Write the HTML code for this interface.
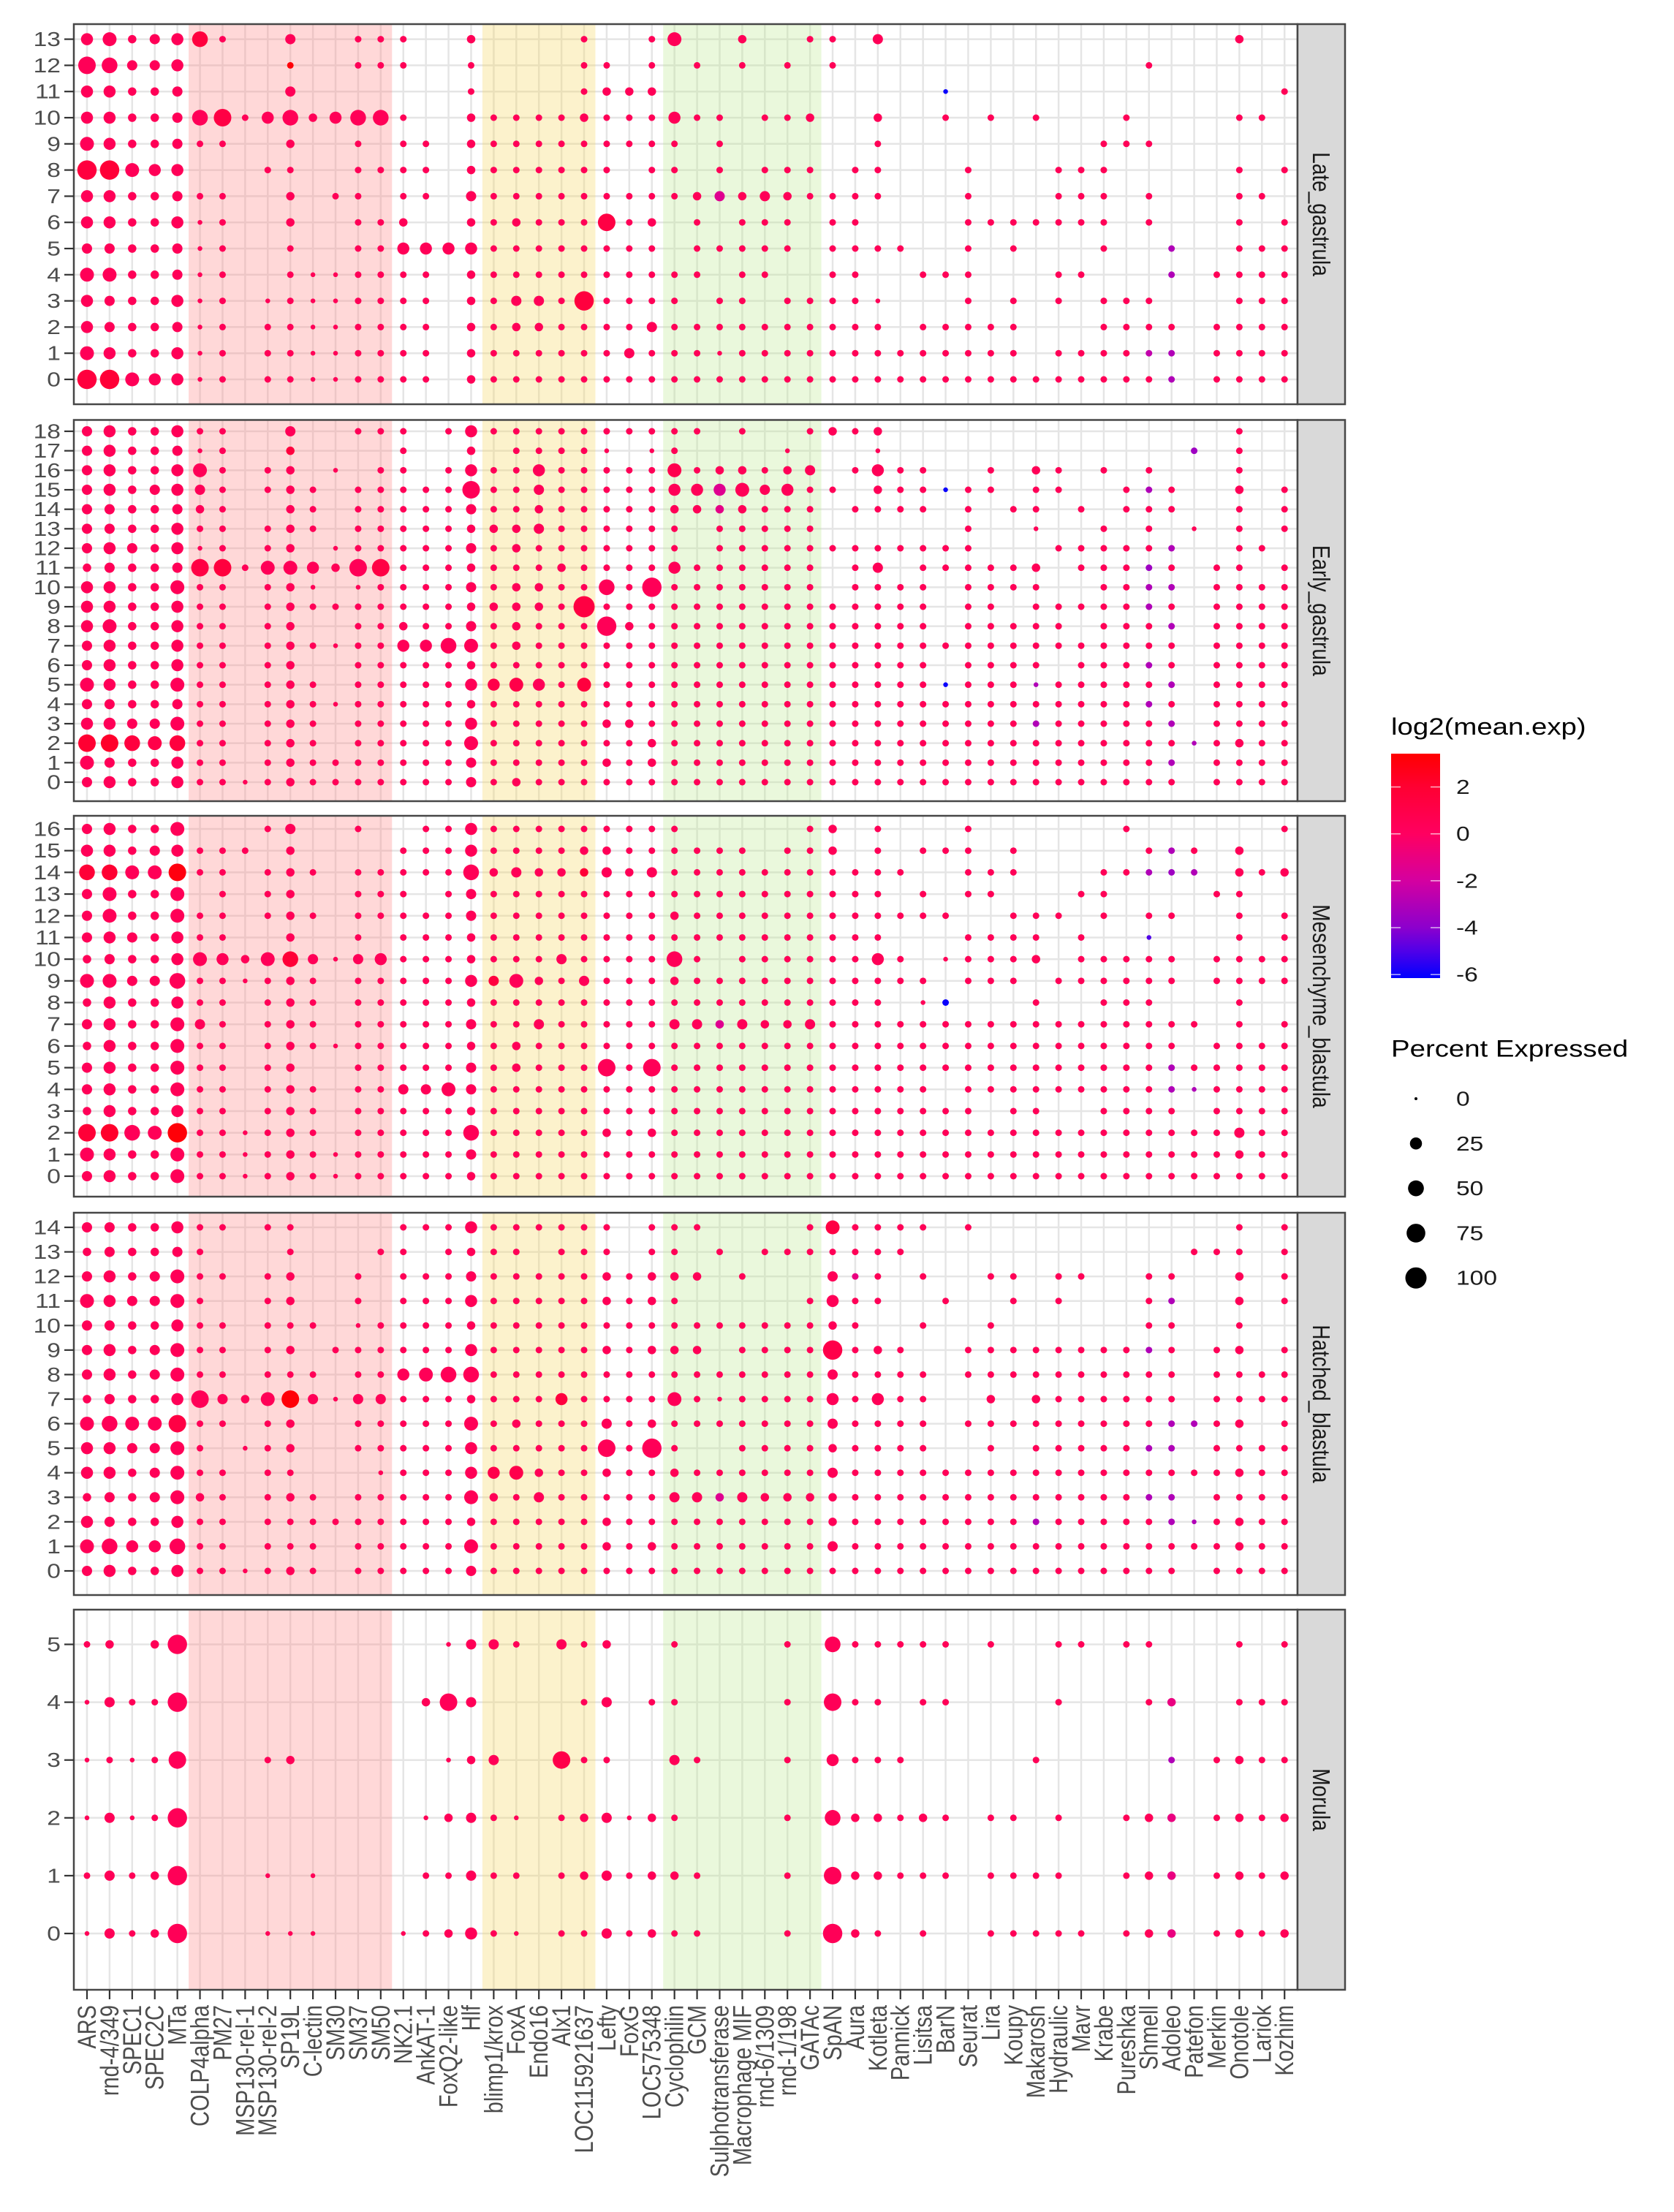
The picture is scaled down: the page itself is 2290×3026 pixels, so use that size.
<!DOCTYPE html>
<html>
<head>
<meta charset="utf-8">
<style>
html,body{margin:0;padding:0;background:#fff;}
svg{display:block;font-family:"Liberation Sans",Arial,sans-serif;}
</style>
</head>
<body>
<svg id="chart" xmlns="http://www.w3.org/2000/svg" width="2290" height="3026" viewBox="0 0 2290 3026">
<rect x="0" y="0" width="2290" height="3026" fill="#ffffff"/>
<g id="panels"></g>
<g id="xaxis"></g>
<g id="legend"></g>
</svg>
<script>
const genes = ["ARS","rnd-4/349","SPEC1","SPEC2C","MTa","COLP4alpha","PM27","MSP130-rel-1","MSP130-rel-2","SP19L","C-lectin","SM30","SM37","SM50","NK2.1","AnkAT-1","FoxQ2-like","Hlf","blimp1/krox","FoxA","Endo16","Alx1","LOC115921637","Lefty","FoxG","LOC575348","Cyclophilin","GCM","Sulphotransferase","Macrophage MIF","rnd-6/1309","rnd-1/198","GATAc","SpAN","Aura","Kotleta","Pannick","Lisitsa","BarN","Seurat","Lira","Koupy","Makarosh","Hydraulic","Mavr","Krabe","Pureshka","Shmell","Adoleo","Patefon","Merkin","Onotole","Lariok","Kozhim"];
const panelNames = ["Late_gastrula","Early_gastrula","Mesenchyme_blastula","Hatched_blastula","Morula"];
// percent expressed per cluster row (top row first); each char c = sqrt(percent) ('.' = none, X = 100)
const lateRows = [
"56345 72..4..22 2..3 ....2 ..2 6..3..2 2.4...............3..",
"87445 ....2..22 2..2 ....2 2.2 .2.2.2. 2.............2......",
"55334 ....4.... ...2 ....2 333 ....... .....1..............2",
"55334 782573577 2..3 22223 222 522.223 ..3..2.2.2...2....22.",
"65334 22..3..2. 22.3 22222 222 2.2.... ..2.........222......",
"99655 ...22..22 22.3 22222 2.2 2.2.222 .22...2...222.....2.2",
"55334 22..3.22. 22.4 22222 222 2343432 222...2...222.2...22.",
"55335 12..3..22 3..3 23222 823 .2.222. 22....2222222.2...2.2",
"44334 12..2..22 5555 22222 222 .22222. 2222..2.2...2..2..222",
"66334 12..21122 22.3 22222 222 22.22.. 22..222...22...2.2222",
"54335 12.121122 22.3 24429 222 2.22.22 221...2.2.2.222...222",
"54334 12.221122 22.3 23322 224 2222222 222.22222...2222.2222",
"65335 12.221122 22.3 22222 242 2212222 222222222.222222.2222",
"99655 12.221122 22.3 22222 222 2222222 2222222222222222.2222"
];
const earlyRows = [
"45335 22..4..22 2.25 22222 222 22.2..2 323...............2..",
"45334 12..3.... 2..3 .2222 1.1 2....1. ..1.............2.2..",
"45335 62.23.1.2 2.25 22522 222 6233234 .2522..2.32.2.2...2..",
"45345 42.232.22 2228 22422 222 5556452 2.322122.22..222..3.2",
"44334 32..32.22 2224 22322 222 3333222 .2222.2.22.2.222..2.2",
"44335 22.232.22 2223 33422 222 2.22222 ......2..1..2.2.1.2.2",
"45435 12.23.122 2224 23222 222 2.22222 2222222...222222..22.",
"34334 882665388 2223 22232 222 5222222 .24.222223.22222.22.2",
"55336 22.231.12 2224 23322 729 2222222 .2222.2222..2222.2222",
"55335 22.232222 2223 3332X 222 2222222 22222.22.2222222.2222",
"56335 22.23..22 3224 23222 932 2222222 22222.22222.2222.2222",
"45335 22.232122 5576 23222 222 2222222 2222222222222222.2222",
"45335 22.23..22 2223 22222 222 2222222 22222.2222.22222.2222",
"65336 22.232.22 2225 56526 222 2222222 22222 1 222 1 222222 . 2222",
"44334 22.232122 2223 22222 222 2222222 2222222222222222.2222",
"55446 22.232.22 2225 22222 332 2222222 2222222222222222.2222",
"88767 22.232.22 2226 22222 223 2222222 2222222222222222 12322",
"64335 22.232222 2224 22222 323 2222222 2222222222222222.2222",
"45335 221232222 2224 23222 222 2222222 2222222222222222.2222"
];
const mesRows = [
"45336 ...24..2. .225 22222 222 2.....2 3.2...2......2......2",
"55345 222.3.... 2225 22223 322 2222.22 3.2.222.2.....222.3..",
"77668 22.232.22 2227 34333 434 2222222 2222..222...22222.323",
"46336 .2.23..22 2.24 22222 222 2222222 222.2.22...22....22..",
"46336 22.232.22 2224 22222 222 3222222 222222..222.2.22..2.2",
"45435 22..3..2. 2223 22222 222 2222222 222...2222.2..1...2.2",
"34335 653674145 2223 22242 222 72.2222 2252.12223.22222.2222",
"66447 221232.22 2225 46324 222 3222222 22222.222.222222.2222",
"35335 22.232.22 2223 22222 222 2222222 222.12...2..222...2..",
"45336 42.232.22 2224 22422 222 4434334 22222222222222222.2.2",
"35336 22.232122 2223 23222 222 2222222 2222222222222222.2222",
"45336 22.23..22 2224 23222 828 2222222 222222222222222222222",
"45336 22.232.22 4464 22222 222 2222222 22222 . 2222222222 1 2222",
"35335 22.232.22 2223 22222 222 2222222 2222222.22..2222.2222",
"88769 221232.22 2227 22222 323 2222222 222222222222222222 422",
"65336 221232122 2224 22222 222 2222222 222222222222222222 322",
"45336 221232122 2223 22222 222 2222222 222222222222222222222"
];
const hatchRows = [
"44335 22.22.... 2225 22222 2.2 22....2 62222.2...........2.2",
"34334 2...2...2 2.23 22.22 2.2 2.2.222 2222............222.2",
"45346 22.23..2. 2224 22222 323 33.2... 422.2..22.22..22..3.2",
"65446 2..23..2. 2225 22222 323 2.....2 522..2..2.2...22..3.2",
"44335 22.222.12 2223 22222 222 2222222 32..2..2......22..2..",
"45346 22.23.222 2225 22222 323 33.2222 9232..2222222222.23.2",
"45346 22.222.22 5677 22222 222 2222222 42222.2222222222.2222",
"34335 843684144 2223 22252 222 6212222 52522..3.3222222.2222",
"67668 22.23..22 2226 23222 423 2222222 42222 . 222222222222 3.2",
"55446 2.123..22 2225 22222 829 2..2222 32222..2.2222222.2222",
"55346 22.22...1 2225 56322 322 3222222 422222222222222222322",
"34346 32.232.22 2226 32422 222 4434333 3222222222222222.2222",
"54335 22.222222 2223 22222 322 2222222 3222222222222222 12322",
"67557 22.222.22 2226 22222 323 2222222 422222222222222222322",
"45335 221232.22 2224 22222 222 2222222 2222222222222222.2222"
];
const morRows = [
"23.39 ......... ..14 42.42 3.. 2....2. 722222.2..22.22...2.2",
"14229 ......... .384 ....2 4.2 2....2. 822.22....2...23..222",
"12128 ...23.... ..13 4..82 2.. 42...2. 5222.....2.....2.2322",
"14129 ......... .134 21.23 413 2....2. 733232.22.2..233.2323",
"24239 ...1.1... .224 22.23 423 32...2. 833222.2222..233.2323",
"14239 ...111... 1235 21.22 423 22...2. 932.2..22222.233.2323"
];
// log2(mean.exp) for notable dots: [panel, clusterRow, geneIndex, value]; others use baseExp
const baseExp = 0.4;
const expOverrides = [
[0,12,9,3.2],[0,13,5,1.5],[0,8,0,1.5],[0,8,1,1.8],[0,0,0,1.5],[0,0,1,1.8],[0,11,38,-6],[0,7,28,-1.5],
[0,5,48,-3],[0,4,48,-3],[0,1,47,-2.5],[0,1,48,-3],[0,0,48,-3],[0,3,22,1.5],[0,6,23,1.2],[0,10,6,1.2],
[1,2,0,2],[1,2,1,2.2],[1,2,2,1.5],[1,2,3,1],[1,2,4,1.5],[1,17,9,1.5],[1,11,5,1.2],[1,11,6,1.5],[1,11,13,1.2],
[1,9,22,1.3],[1,5,22,1.5],[1,5,18,1],[1,5,19,1],[1,16,26,0.8],
[1,17,49,-3.5],[1,15,47,-3],[1,15,38,-6],[1,15,28,-1.5],[1,14,28,-1.2],[1,12,48,-3],[1,11,47,-3.5],[1,10,47,-3],[1,10,48,-3],
[1,9,47,-3],[1,8,48,-3],[1,6,47,-3],[1,5,42,-3],[1,5,48,-3],[1,5,38,-6],[1,4,47,-3],[1,3,48,-3],[1,3,42,-3],[1,2,49,-3],[1,1,48,-3],
[2,14,0,1.8],[2,14,1,2],[2,14,4,3],[2,2,0,1.8],[2,2,1,2.2],[2,2,4,3.2],[2,10,9,1.8],[2,9,18,1.5],[2,14,22,1.8],
[2,15,48,-3],[2,14,47,-3],[2,14,48,-3.5],[2,14,49,-3],[2,11,47,-5],[2,8,38,-6],[2,5,48,-3],[2,4,48,-3],[2,4,49,-3],[2,7,28,-1.5],
[3,7,9,3.2],[3,7,21,1.5],[3,14,33,1.2],[3,9,33,1],[3,6,4,1.2],[3,12,34,-1],[3,11,48,-3],[3,9,47,-3],[3,6,48,-3],[3,6,49,-3],
[3,5,47,-3],[3,5,48,-3],[3,3,47,-3],[3,3,48,-3],[3,3,28,-1.5],[3,2,42,-3],[3,2,48,-3],[3,2,49,-3],[3,4,18,0.9],[3,4,19,0.9],
[4,4,48,-1],[4,3,48,-3],[4,2,48,-1],[4,1,48,-1],[4,0,48,-1],[4,3,21,1]
];

const NS = "http://www.w3.org/2000/svg";
function mk(tag, attrs, parent) {
  const el = document.createElementNS(NS, tag);
  for (const k in attrs) el.setAttribute(k, attrs[k]);
  if (parent) parent.appendChild(el);
  return el;
}
function parseRow(s) {
  const t = s.replace(/\s+/g, "");
  const out = [];
  for (let i = 0; i < genes.length; i++) {
    const c = t[i];
    if (c === undefined || c === ".") out.push(null);
    else if (c === "X") out.push(100);
    else { const d = parseInt(c, 10); out.push(d * d); }
  }
  return out;
}
const allRows = [lateRows, earlyRows, mesRows, hatchRows, morRows];

// layout (pixel geometry only)
const LEFT = 101, RIGHT = 1775, STRIP_W = 65;
const X0 = 119, DX = 30.91;
const boxes = [
  {top:33, bottom:553, yMax:53.6, y0:519},
  {top:574.5, bottom:1096, yMax:590, y0:1070},
  {top:1116, bottom:1637, yMax:1134, y0:1609},
  {top:1659, bottom:2182, yMax:1679, y0:2149},
  {top:2202, bottom:2722, yMax:2249.5, y0:2645}
];
const bands = [
  {from:5, to:13, fill:"rgb(255,125,125)", name:"band-biomineralization"},
  {from:18, to:22, fill:"rgb(245,212,85)", name:"band-endomesoderm"},
  {from:26, to:32, fill:"rgb(185,232,138)", name:"band-pigment-cells"}
];
function xScale(i) { return X0 + i * DX; }
function rScale(p) { return 2 + 12.5 * Math.sqrt(p / 100); }
const EXP_MIN = -6.15, EXP_MAX = 3.42;
const stops = [[-6.15,[0,0,255]],[-5,[80,0,232]],[-4,[140,0,205]],[-2,[212,0,160]],[0,[255,0,96]],[2,[255,0,50]],[3.42,[255,0,0]]];
function colorScale(v) {
  v = Math.max(EXP_MIN, Math.min(EXP_MAX, v));
  for (let i = 0; i < stops.length - 1; i++) {
    const a = stops[i], b = stops[i+1];
    if (v >= a[0] && v <= b[0]) {
      const t = (v - a[0]) / (b[0] - a[0]);
      const c = a[1].map((x, k) => Math.round(x + (b[1][k] - x) * t));
      return "rgb(" + c.join(",") + ")";
    }
  }
  return "rgb(255,0,96)";
}
const TEXT = "#4d4d4d";
const panelsG = document.getElementById("panels");

allRows.forEach((rows, p) => {
  const b = boxes[p];
  const nRows = rows.length;
  const maxRow = nRows - 1;
  const yScale = r => b.y0 - r * (b.y0 - b.yMax) / maxRow;
  const g = mk("g", {}, panelsG);
  
  
  const bg = mk("rect", {x:LEFT, y:b.top, width:RIGHT-LEFT, height:b.bottom-b.top, fill:"#fff"}, g);
  
  
  for (let i = 0; i < genes.length; i++) {
    const l = mk("line", {x1:xScale(i), x2:xScale(i), y1:b.top, y2:b.bottom, stroke:"#e5e5e5", "stroke-width":2.5}, g);
    
    
  }
  for (let r = 0; r < nRows; r++) {
    const l = mk("line", {x1:LEFT, x2:RIGHT, y1:yScale(r), y2:yScale(r), stroke:"#e5e5e5", "stroke-width":2.5}, g);
    
    
  }
  bands.forEach(bd => {
    const x1 = xScale(bd.from) - DX/2, x2 = xScale(bd.to) + DX/2;
    const rc = mk("rect", {x:x1, y:b.top, width:x2-x1, height:b.bottom-b.top, fill:bd.fill, "fill-opacity":0.3}, g);
    
    
  });
  rows.forEach((s, idx) => {
    const row = maxRow - idx;
    const vals = parseRow(s);
    vals.forEach((pct, gi) => {
      if (pct === null) return;
      let e = baseExp;
      for (const o of expOverrides) if (o[0] === p && o[1] === row && o[2] === gi) e = o[3];
      const c = mk("circle", {cx:xScale(gi), cy:yScale(row), r:rScale(pct), fill:colorScale(e)}, g);
      
      
    });
  });
  const br = mk("rect", {x:LEFT, y:b.top, width:RIGHT-LEFT, height:b.bottom-b.top, fill:"none", stroke:"#474747", "stroke-width":2.5}, g);
  
  
  for (let r = 0; r < nRows; r++) {
    const y = yScale(r);
    const tk = mk("line", {x1:88, x2:LEFT, y1:y, y2:y, stroke:"#333", "stroke-width":2.2}, g);
    
    
    const t = mk("text", {x:0, y:0, "font-size":28, fill:TEXT, "text-anchor":"end", "dominant-baseline":"central", transform:"translate(83," + y + ") scale(1.2,1)"}, g);
    t.textContent = String(r);
    
    
  }
  const st = mk("rect", {x:RIGHT, y:b.top, width:STRIP_W, height:b.bottom-b.top, fill:"#d9d9d9", stroke:"#474747", "stroke-width":2.5}, g);
  
  
  const stt = mk("text", {x:0, y:0, "font-size":28, fill:"#1a1a1a", "text-anchor":"middle", "dominant-baseline":"central", transform:"translate(" + (RIGHT + STRIP_W/2) + "," + ((b.top + b.bottom)/2) + ") scale(1.2,1) rotate(90)"}, g);
  stt.textContent = panelNames[p];
  
  
});

const xg = document.getElementById("xaxis");
const lastB = boxes[boxes.length - 1].bottom;
genes.forEach((gname, i) => {
  const x = xScale(i);
  const tk = mk("line", {x1:x, x2:x, y1:lastB, y2:lastB + 13, stroke:"#333", "stroke-width":2.2}, xg);
  
  
  const t = mk("text", {x:0, y:0, "font-size":29, fill:TEXT, "text-anchor":"end", "dominant-baseline":"central", transform:"translate(" + x + "," + (lastB + 21) + ") scale(1.2,1) rotate(-90)"}, xg);
  t.textContent = gname;
  
  
});

const lg = document.getElementById("legend");
const colorTicks = [2, 0, -2, -4, -6];
const sizeKeys = [0, 25, 50, 75, 100];
const BAR_X = 1903, BAR_W = 67, BAR_TOP = 1031, BAR_BOT = 1338;
const legY = v => BAR_BOT - (v - EXP_MIN) / (EXP_MAX - EXP_MIN) * (BAR_BOT - BAR_TOP);
const t1 = mk("text", {x:0, y:0, "font-size":32, fill:"#000", transform:"translate(1903,1005) scale(1.2,1)"}, lg);
t1.textContent = "log2(mean.exp)";


const defs = mk("defs", {}, lg);
const grad = mk("linearGradient", {id:"cgrad", x1:0, y1:1, x2:0, y2:0}, defs);
stops.forEach(s => {
  mk("stop", {offset:((s[0]-EXP_MIN)/(EXP_MAX-EXP_MIN)).toFixed(4), "stop-color":"rgb(" + s[1].join(",") + ")"}, grad);
});
const bar = mk("rect", {x:BAR_X, y:BAR_TOP, width:BAR_W, height:BAR_BOT-BAR_TOP, fill:"url(#cgrad)"}, lg);


colorTicks.forEach(v => {
  const y = legY(v);
  const a = mk("line", {x1:BAR_X, x2:BAR_X+13, y1:y, y2:y, stroke:"#fff", "stroke-opacity":0.7, "stroke-width":1.5}, lg);
  
  
  const b2 = mk("line", {x1:BAR_X+BAR_W-13, x2:BAR_X+BAR_W, y1:y, y2:y, stroke:"#fff", "stroke-opacity":0.7, "stroke-width":1.5}, lg);
  
  
  const t = mk("text", {x:0, y:0, "font-size":28, fill:"#1a1a1a", "dominant-baseline":"central", transform:"translate(1992," + y + ") scale(1.2,1)"}, lg);
  t.textContent = String(v);
  
  
});
const t2 = mk("text", {x:0, y:0, "font-size":32, fill:"#000", "dominant-baseline":"central", transform:"translate(1903,1435) scale(1.2,1)"}, lg);
t2.textContent = "Percent Expressed";


sizeKeys.forEach((k, i) => {
  const y = 1503 + i * 61.3;
  const c = mk("circle", {cx:1937, cy:y, r:rScale(k), fill:"#000"}, lg);
  
  
  const t = mk("text", {x:0, y:0, "font-size":28, fill:"#1a1a1a", "dominant-baseline":"central", transform:"translate(1992," + y + ") scale(1.2,1)"}, lg);
  t.textContent = String(k);
  
  
});
</script>
</body>
</html>
